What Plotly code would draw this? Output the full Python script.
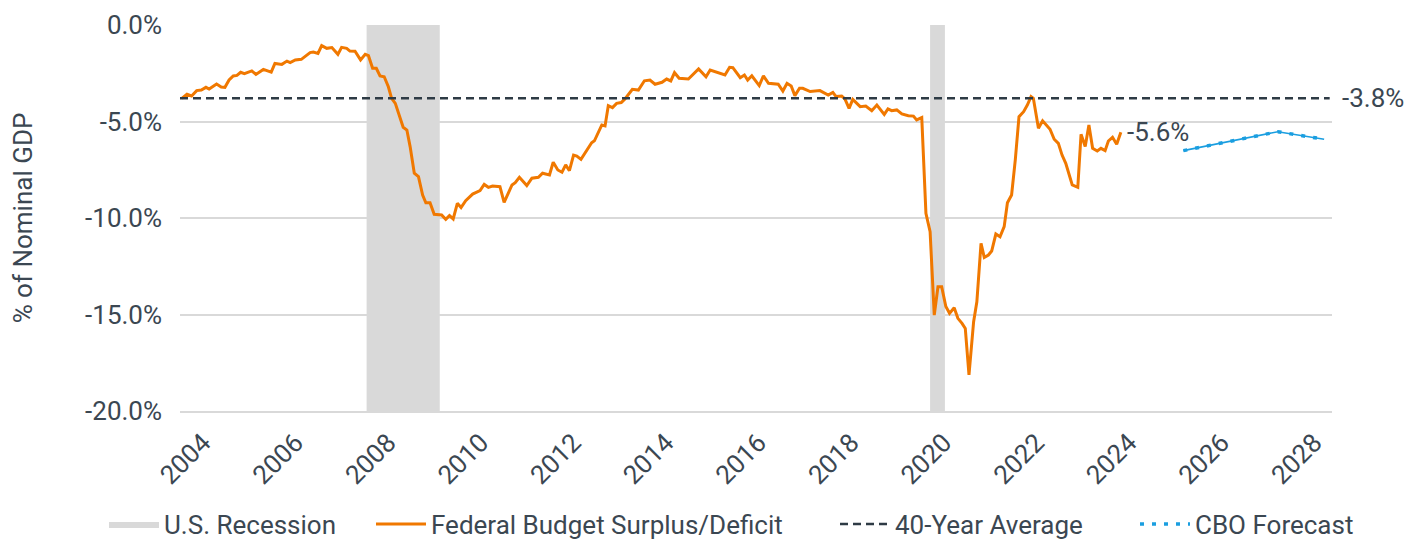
import plotly.graph_objects as go

# ---- data (decimal years, % of nominal GDP) ----
deficit_x = [
    2003.93, 2004.04, 2004.14, 2004.25, 2004.35, 2004.45, 2004.52, 2004.68, 2004.78, 2004.86,
    2004.95, 2005.04, 2005.12, 2005.20, 2005.28, 2005.44, 2005.53, 2005.69, 2005.86, 2005.94,
    2006.09, 2006.20, 2006.27, 2006.38, 2006.51, 2006.59, 2006.70, 2006.77, 2006.87, 2006.95,
    2007.06, 2007.17, 2007.30, 2007.38, 2007.49, 2007.56, 2007.67, 2007.79, 2007.89, 2007.96,
    2008.05, 2008.13, 2008.21, 2008.30, 2008.39, 2008.46, 2008.54, 2008.71, 2008.79, 2008.86,
    2008.95, 2009.04, 2009.13, 2009.20, 2009.29, 2009.38, 2009.49, 2009.54, 2009.63, 2009.71,
    2009.79, 2009.88, 2009.96, 2010.06, 2010.21, 2010.37, 2010.46, 2010.55, 2010.64, 2010.80,
    2010.89, 2011.06, 2011.13, 2011.22, 2011.38, 2011.49, 2011.63, 2011.72, 2011.87, 2011.95,
    2012.05, 2012.14, 2012.22, 2012.30, 2012.39, 2012.46, 2012.55, 2012.68, 2012.78, 2012.84,
    2012.96, 2013.00, 2013.07, 2013.14, 2013.23, 2013.32, 2013.42, 2013.50, 2013.66, 2013.79,
    2013.92, 2014.04, 2014.15, 2014.30, 2014.40, 2014.49, 2014.57, 2014.67, 2014.87, 2015.09,
    2015.25, 2015.34, 2015.66, 2015.76, 2015.83, 2015.99, 2016.08, 2016.15, 2016.24, 2016.40,
    2016.49, 2016.60, 2016.81, 2016.91, 2017.00, 2017.09, 2017.17, 2017.27, 2017.34, 2017.50,
    2017.71, 2017.89, 2017.99, 2018.06, 2018.18, 2018.25, 2018.34, 2018.42, 2018.58, 2018.70,
    2018.83, 2018.94, 2019.10, 2019.18, 2019.26, 2019.37, 2019.48, 2019.62, 2019.73, 2019.80,
    2019.91, 2020.00, 2020.09, 2020.18, 2020.26, 2020.34, 2020.43, 2020.51, 2020.61, 2020.69,
    2020.78, 2020.85, 2020.93, 2021.03, 2021.10, 2021.19, 2021.26, 2021.35, 2021.42, 2021.51,
    2021.60, 2021.69, 2021.76, 2021.85, 2021.93, 2022.01, 2022.11, 2022.19, 2022.27, 2022.32,
    2022.43, 2022.52, 2022.68, 2022.77, 2022.86, 2022.94, 2023.02, 2023.16, 2023.28, 2023.35,
    2023.44, 2023.52, 2023.60, 2023.70, 2023.78, 2023.87, 2023.94, 2024.03, 2024.12, 2024.21,
]
deficit_y = [
    -3.80, -3.59, -3.68, -3.40, -3.37, -3.23, -3.32, -3.06, -3.21, -3.23,
    -2.85, -2.64, -2.61, -2.45, -2.52, -2.38, -2.56, -2.30, -2.44, -1.99,
    -2.04, -1.87, -1.95, -1.81, -1.78, -1.64, -1.43, -1.40, -1.47, -1.07,
    -1.21, -1.17, -1.52, -1.16, -1.21, -1.35, -1.36, -1.81, -1.52, -1.59,
    -2.24, -2.24, -2.64, -2.68, -3.20, -3.80, -4.06, -5.30, -5.44, -6.30,
    -7.68, -7.86, -8.81, -9.21, -9.21, -9.81, -9.81, -9.84, -10.07, -9.88,
    -10.05, -9.24, -9.46, -9.10, -8.76, -8.58, -8.26, -8.41, -8.34, -8.38,
    -9.19, -8.29, -8.17, -7.89, -8.32, -7.94, -7.89, -7.68, -7.77, -7.11,
    -7.51, -7.63, -7.25, -7.55, -6.74, -6.79, -6.96, -6.48, -6.10, -6.00,
    -5.35, -5.18, -5.23, -4.18, -4.28, -4.06, -4.02, -3.83, -3.33, -3.37,
    -2.89, -2.85, -3.07, -2.97, -2.80, -2.90, -2.47, -2.76, -2.80, -2.28,
    -2.68, -2.33, -2.59, -2.19, -2.21, -2.73, -2.59, -2.85, -2.63, -3.14,
    -2.64, -3.02, -3.07, -3.42, -3.02, -3.16, -3.66, -3.28, -3.28, -3.45,
    -3.40, -3.63, -3.49, -3.71, -3.68, -3.83, -4.32, -3.85, -4.23, -4.20,
    -4.44, -4.15, -4.63, -4.35, -4.44, -4.40, -4.61, -4.70, -4.72, -4.92,
    -4.80, -9.76, -10.71, -15.03, -13.56, -13.56, -14.59, -14.94, -14.65, -15.20,
    -15.46, -15.72, -18.13, -15.37, -14.34, -11.31, -12.04, -11.92, -11.71, -10.83,
    -10.97, -10.45, -9.21, -8.81, -6.99, -4.75, -4.49, -4.15, -3.71, -3.80,
    -5.35, -4.96, -5.40, -5.92, -6.13, -6.74, -7.17, -8.29, -8.41, -5.66,
    -6.30, -5.18, -6.39, -6.53, -6.39, -6.51, -6.01, -5.82, -6.18, -5.56,
]
cbo_x = [2025.56, 2026.58, 2027.60, 2028.60]
cbo_y = [-6.51, -6.02, -5.53, -5.92]
avg_value = -3.8
recessions = [(2007.92, 2009.50), (2020.09, 2020.41)]
x_range = [2003.89, 2028.77]
y_range = [-20, 0]
tick_years = list(range(2004, 2029, 2))
tick_labels = [str(t) for t in tick_years]
y_ticks = [0, -5, -10, -15, -20]
y_tick_labels = ["0.0%", "-5.0%", "-10.0%", "-15.0%", "-20.0%"]

TXT = "#3b4752"
FONT = "Roboto"
FS = 26

fig = go.Figure()

# recession bands as one filled trace
rx, ry = [], []
for a, b in recessions:
    rx += [a, b, b, a, a, None]
    ry += [y_range[1], y_range[1], y_range[0], y_range[0], y_range[1], None]
fig.add_trace(go.Scatter(x=rx, y=ry, fill="toself", fillcolor="#d9d9d9",
                         line=dict(width=0, color="#d9d9d9"), mode="lines",
                         name="U.S. Recession", hoverinfo="skip", legend="legend"))

fig.add_trace(go.Scatter(x=deficit_x, y=deficit_y, mode="lines",
                         line=dict(color="#f07800", width=3),
                         name="Federal Budget Surplus/Deficit", legend="legend2"))

fig.add_trace(go.Scatter(x=[x_range[0], x_range[1] - 0.05], y=[avg_value, avg_value], mode="lines",
                         line=dict(color="#2e3b45", width=2.5, dash="8px,5px"),
                         name="40-Year Average", legend="legend3"))

# CBO forecast: thin solid line plus a dotted overlay for the marker-like pattern
fig.add_trace(go.Scatter(x=cbo_x, y=cbo_y, mode="lines",
                         line=dict(color="#1a9ee0", width=1.6),
                         showlegend=False, hoverinfo="skip"))
fig.add_trace(go.Scatter(x=cbo_x, y=cbo_y, mode="lines",
                         line=dict(color="#1a9ee0", width=3.5, dash="4px,8px"),
                         name="CBO Forecast", legend="legend4"))

fig.add_annotation(x=deficit_x[-1], y=deficit_y[-1], text="%.1f%%" % deficit_y[-1],
                   xanchor="left", yanchor="middle", xshift=4, showarrow=False,
                   font=dict(family=FONT, size=FS, color=TXT))
fig.add_annotation(x=1, xref="paper", y=avg_value, text="%.1f%%" % avg_value,
                   xanchor="left", yanchor="middle", xshift=8, showarrow=False,
                   font=dict(family=FONT, size=FS, color=TXT))

leg_common = dict(orientation="h", yref="container", xref="container", y=1 - 524 / 540,
                  yanchor="middle", xanchor="left", itemwidth=50,
                  font=dict(family=FONT, size=FS, color=TXT), bgcolor="rgba(0,0,0,0)")
fig.update_layout(
    width=1427, height=540,
    margin=dict(l=180, r=95, t=25, b=129, autoexpand=False),
    plot_bgcolor="white", paper_bgcolor="white",
    font=dict(family=FONT, size=FS, color=TXT),
    showlegend=True,
    legend=dict(leg_common, x=104 / 1427),
    legend2=dict(leg_common, x=371 / 1427),
    legend3=dict(leg_common, x=835 / 1427),
    legend4=dict(leg_common, x=1135 / 1427),
    xaxis=dict(range=x_range, tickmode="array", tickvals=tick_years, ticktext=tick_labels,
               tickangle=-45, showgrid=False, zeroline=False,
               showline=True, linecolor="#d9d9d9", linewidth=2,
               ticks="", ticklabelshift=18, ticklabelstandoff=4, automargin=False),
    yaxis=dict(range=y_range, tickmode="array", tickvals=y_ticks, ticktext=y_tick_labels,
               showgrid=True, gridcolor="#d9d9d9", gridwidth=2, zeroline=False,
               showline=False, ticks="", ticklabelstandoff=17, automargin=False,
               title=dict(text="% of Nominal GDP", standoff=44,
                          font=dict(family=FONT, size=FS, color=TXT))),
)

fig.write_html("out.html", config={"displayModeBar": False},
               post_script="document.body.style.margin='0';document.body.style.overflow='hidden';")
